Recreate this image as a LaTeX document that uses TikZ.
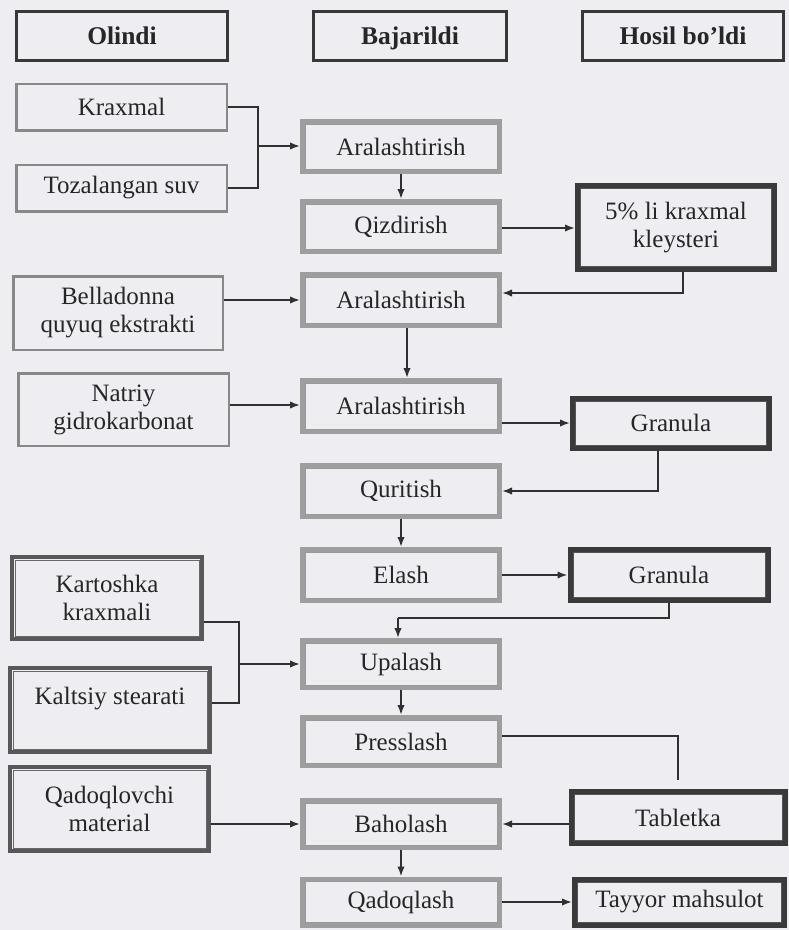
\documentclass[tikz,border=0pt]{standalone}
\usepackage{fontspec}
\setmainfont{Liberation Serif}
\usetikzlibrary{arrows.meta,calc}

\definecolor{paper}{HTML}{EEEEF2}
\definecolor{ink}{HTML}{262626}
\definecolor{headc}{HTML}{383838}
\definecolor{plainc}{HTML}{888888}
\definecolor{stagec}{HTML}{9E9E9E}
\definecolor{stagein}{HTML}{999999}
\definecolor{feedc}{HTML}{585858}
\definecolor{feedin}{HTML}{686868}
\definecolor{resc}{HTML}{3A3A3A}
\definecolor{resin}{HTML}{555555}
\definecolor{linec}{HTML}{303030}

\begin{document}
\begin{tikzpicture}[x=1pt,y=-1pt,
  box/.style={rectangle, draw, inner sep=0pt, align=center, text=ink, fill=paper,
    font=\fontsize{25}{28}\selectfont},
  head/.style={box, draw=headc, line width=3pt, text height=17pt, text depth=0pt,
    font=\bfseries\fontsize{25.5}{28}\selectfont},
  plain/.style={box, draw=plainc, line width=2.5pt},
  stage/.style={box, draw=stagec, line width=5pt},
  feed/.style={box, draw=feedc, line width=4pt},
  result/.style={box, draw=resc, line width=5pt},
  conn/.style={draw=linec, line width=1.9pt},
  arr/.style={conn, -{Latex[length=10pt,width=7.5pt]}},
  sz/.style n args={2}{minimum width=#1pt, minimum height=#2pt}
]
\fill[paper] (0,0) rectangle (789,930);
\useasboundingbox (0,0) rectangle (789,930);

% column headings
\node[head, sz={211}{49}] (hOl) at (122,36) {Olindi};
\node[head, sz={193}{49}] (hBa) at (410,36) {Bajarildi};
\node[head, sz={201}{49}] (hHo) at (683,36) {Hosil bo’ldi};

% raw materials
\node[plain, sz={210.5}{46.5}] (kraxmal) at (121.5,107) {Kraxmal};
\node[plain, sz={210.5}{46.5}] (suv) at (121.5,188) {Tozalangan suv};
\node[plain, sz={209.5}{73.5}] (bella) at (118,313) {Belladonna\\quyuq ekstrakti};
\node[plain, sz={210.5}{72.5}] (natriy) at (123.5,409.5) {Natriy\\gidrokarbonat};
\node[feed, sz={190}{82}] (kart) at (107,598) {Kartoshka\\kraxmali};
\node[feed, sz={200}{84}] (kalts) at (110,710) {Kaltsiy stearati\\ ~};
\node[feed, sz={199}{84}] (qmat) at (109.5,809) {Qadoqlovchi\\material};

% process steps
\node[stage, sz={197}{50}] (ar1) at (401,146.5) {Aralashtirish};
\node[stage, sz={197}{50}] (qiz) at (401,226.5) {Qizdirish};
\node[stage, sz={197}{51}] (ar2) at (401,300) {Aralashtirish};
\node[stage, sz={197}{51}] (ar3) at (401,406) {Aralashtirish};
\node[stage, sz={197}{51}] (qur) at (401,491) {Quritish};
\node[stage, sz={197}{51}] (elash) at (401,575) {Elash};
\node[stage, sz={197}{47}] (upal) at (401,664) {Upalash};
\node[stage, sz={197}{48}] (press) at (401,741.5) {Presslash};
\node[stage, sz={197}{47}] (bahol) at (401,824) {Baholash};
\node[stage, sz={197}{46}] (qadoq) at (401,902) {Qadoqlash};

% products
\node[result, sz={197}{84}] (klei) at (676,227.5) {5\% li kraxmal\\kleysteri};
\node[result, sz={197}{50}] (gran1) at (671,423) {Granula};
\node[result, sz={198}{51}] (gran2) at (669,575) {Granula};
\node[result, sz={214}{52}] (tabl) at (678,817.5) {Tabletka};
\node[result, sz={210}{46}] (tayyor) at (679.5,902) {Tayyor mahsulot};

% inner rules of the double frames
\foreach \n in {ar1,qiz,ar2,ar3,qur,elash,upal,press,bahol,qadoq}
  \draw[stagein, line width=0.9pt] ([shift={(5,5)}]\n.north west) rectangle ([shift={(-5,-5)}]\n.south east);
\foreach \n in {kart,kalts,qmat}
  \draw[feedin, line width=1pt] ([shift={(5,5)}]\n.north west) rectangle ([shift={(-5,-5)}]\n.south east);
\foreach \n in {klei,gran1,gran2,tabl,tayyor}
  \draw[resin, line width=1pt] ([shift={(5.5,5.5)}]\n.north west) rectangle ([shift={(-5.5,-5.5)}]\n.south east);

% connectors
\coordinate (j1) at (258,146);
\draw[conn] (kraxmal.east) -| (j1) |- (suv.east);
\draw[arr] (j1) -- (j1 -| ar1.west);
\draw[arr] (ar1.south) -- (qiz.north);
\draw[arr] ([shift={(0,1.5)}]qiz.east) -- ([shift={(0,1.5)}]qiz.east -| klei.west);
\draw[arr] ([shift={(7,0)}]klei.south) |- ([shift={(0,-7)}]ar2.east);
\draw[arr] (ar2.west -| bella.east) -- (ar2.west);
\draw[arr] ([shift={(6,0)}]ar2.south) -- ([shift={(6,0)}]ar3.north);
\draw[arr] ([shift={(0,-1)}]ar3.west -| natriy.east) -- ([shift={(0,-1)}]ar3.west);
\draw[arr] (gran1.west -| ar3.east) -- (gran1.west);
\draw[arr] ([shift={(-13,0)}]gran1.south) |- (qur.east);
\draw[arr] (qur.south) -- (elash.north);
\draw[arr] (elash.east) -- (elash.east -| gran2.west);
\coordinate (j2) at (398,618);
\draw[conn] (gran2.south) |- (j2);
\draw[arr] (j2) -- (j2 |- upal.north);
\coordinate (j3) at (239,664);
\draw[conn] ([shift={(0,24)}]kart.east) -| (j3) |- ([shift={(0,-7)}]kalts.east);
\draw[arr] (j3) -- (upal.west);
\draw[arr] (upal.south) -- (press.north);
\draw[conn] ([shift={(0,-5.5)}]press.east) -| ([shift={(0,-9)}]tabl.north);
\draw[arr] (tabl.west |- bahol.east) -- (bahol.east);
\draw[arr] (bahol.west -| qmat.east) -- (bahol.west);
\draw[arr] (bahol.south) -- (qadoq.north);
\draw[arr] (qadoq.east) -- (tayyor.west);
\end{tikzpicture}
\end{document}
